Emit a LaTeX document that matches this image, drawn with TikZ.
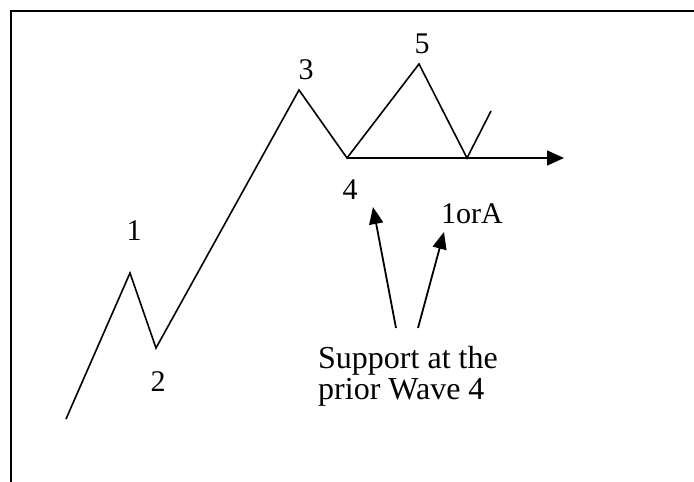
\documentclass[tikz,border=0pt]{standalone}
\usepackage{fontspec}
\setmainfont{Liberation Serif}
\usetikzlibrary{arrows.meta}
\begin{document}
\begin{tikzpicture}[x=1pt,y=-1pt,
  frameline/.style={line width=1.5pt,line cap=rect},
  waveline/.style={line width=1.6pt,line join=miter},
  arrowline/.style={line width=1.8pt,-{Triangle[length=17pt,width=14pt]}},
  lbl/.style={font=\fontsize{30}{29}\selectfont,anchor=base,inner sep=0pt},
  note/.style={font=\fontsize{32}{31}\selectfont,anchor=base west,inner sep=0pt,align=left}]
\useasboundingbox (0,0) rectangle (694,482);
% frame
\coordinate (fbl) at (11,482);
\coordinate (ftl) at (11,11);
\coordinate (ftr) at (694,11);
\draw[frameline] (fbl) -- (ftl) -- (ftr);
% wave points
\coordinate (w0) at (66,419);
\coordinate (w1) at (130,273);
\coordinate (w2) at (156,348);
\coordinate (w3) at (299,90);
\coordinate (w4) at (347,158);
\coordinate (w5) at (419,64);
\coordinate (wA) at (467,158);
\coordinate (wE) at (491,111);
\coordinate (hz) at (564,158);
\draw[waveline] (w0) -- (w1) -- (w2) -- (w3) -- (w4) -- (w5) -- (wA) -- (wE);
\draw[line width=1.6pt,-{Triangle[length=17pt,width=15pt]}] (w4) -- (hz);
% labels
\node[lbl] (l1) at (134,240) {1};
\node[lbl] (l2) at (158,391) {2};
\node[lbl] (l3) at (306,79) {3};
\node[lbl] (l4) at (350,199) {4};
\node[lbl] (l5) at (422,53) {5};
\node[lbl] (lA) at (472,223) {1orA};
\node[note] (sup) at (318,399) {Support at the\\prior Wave 4};
% arrows
\coordinate (s1) at (396,328);
\coordinate (t1) at (373,207);
\coordinate (s2) at (418,328);
\coordinate (t2) at (444,232);
\draw[arrowline] (s1) -- (t1);
\draw[arrowline] (s2) -- (t2);
\end{tikzpicture}
\end{document}
